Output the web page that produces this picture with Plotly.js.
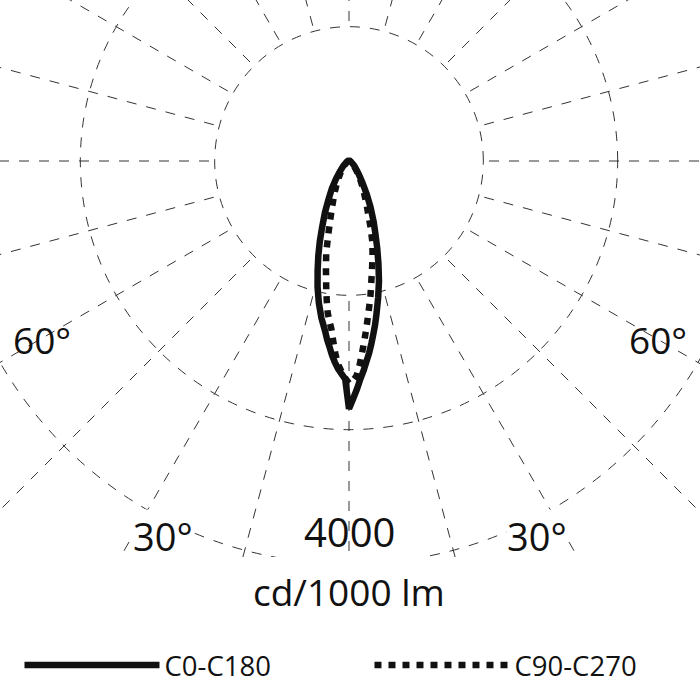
<!DOCTYPE html>
<html><head><meta charset="utf-8">
<script src="https://cdn.plot.ly/plotly-3.0.1.min.js"></script>
<style>
html,body{margin:0;padding:0;width:700px;height:700px;overflow:hidden;background:#fff}
#chart{position:absolute;left:-191px;top:-379px;width:1080px;height:1080px}
</style></head><body><div id="chart"></div>
<script>
// gamma: angle from nadir (deg)
const gamma = [0,1,2,3,4,5,6,7,8,9,10,12,14,16,18,20,22,25,28,32,36,40,45,50,60,70,90,120,180];
// luminous intensity, cd/1000 lm
const c0   = [2460,2360,2265,2165,2085,1995,1915,1825,1735,1650,1560,1390,1230,1060,905,765,655,505,375,250,170,120,80,60,30,20,10,0,0];
const c180 = [2460,2165,2115,2065,2005,1935,1855,1785,1705,1640,1580,1440,1290,1130,985,845,715,565,435,320,220,150,100,70,30,20,10,0,0];
const c90  = [2205,2185,2135,2025,1895,1775,1660,1550,1450,1360,1260,1100,965,845,695,555,465,355,280,200,140,100,70,50,30,20,10,0,0];
const c270 = [2205,2155,2095,2025,1925,1795,1675,1600,1520,1410,1300,1100,935,735,595,495,415,330,260,190,140,100,70,50,30,20,10,0,0];
const planeNames = ['C0-C180','C90-C270'];
const radialTicks = [4000/3, 8000/3, 4000];
const radialMax = 5360;
const radialLabel = '4000';
const unitLabel = 'cd/1000 lm';
const angleLabels = ['60°','30°','30°','60°'];

function plane(right, left){
  const theta=[], r=[];
  for(let i=gamma.length-1;i>=0;i--){ theta.push(-gamma[i]); r.push(left[i]); }
  for(let i=1;i<gamma.length;i++){ theta.push(gamma[i]); r.push(right[i]); }
  return {theta, r};
}
const p1 = plane(c0, c180);
const p2 = plane(c90, c270);

// white disc hiding radial grid lines inside the first circle
const maskTheta = [], maskR = [];
for(let a=0;a<=360;a+=5){ maskTheta.push(a); maskR.push(radialTicks[0]*0.985); }

const FONT = 'Open Sans, sans-serif';
const INK = '#111';
const GRID = '#333';

const traces = [
  {type:'scatterpolar', mode:'lines', theta:maskTheta, r:maskR, fill:'toself', fillcolor:'#ffffff',
   line:{width:0,color:'rgba(0,0,0,0)'}, showlegend:false, hoverinfo:'skip'},
  {type:'scatterpolar', mode:'lines', name:planeNames[1], theta:p2.theta, r:p2.r,
   line:{color:INK, width:6.5, dash:'7px,7px'}, legendrank:2},
  {type:'scatterpolar', mode:'lines', name:planeNames[0], theta:p1.theta, r:p1.r,
   line:{color:INK, width:6.5}, legendrank:1}
];

const layout = {
  width:1080, height:1080, margin:{l:0,r:0,t:0,b:0},
  paper_bgcolor:'#ffffff', showlegend:true,
  polar:{
    domain:{x:[0,1],y:[0,1]}, bgcolor:'#ffffff',
    radialaxis:{range:[0,radialMax], tickmode:'array', tickvals:radialTicks, showticklabels:false,
      ticks:'', showline:false, gridcolor:GRID, gridwidth:1, griddash:'10px,10px'},
    angularaxis:{rotation:-90, direction:'counterclockwise', tickmode:'linear', tick0:0, dtick:15,
      showticklabels:false, ticks:'', showline:false, gridcolor:GRID, gridwidth:1, griddash:'10px,10px'}
  },
  shapes:[{type:'rect', xref:'paper', yref:'paper', x0:0, x1:1, y0:0, y1:0.1333,
    fillcolor:'#ffffff', line:{width:0}, layer:'above'}],
  annotations:[
    {text:radialLabel, xref:'paper', yref:'paper', x:0.5, y:0.1574, xanchor:'center', yanchor:'middle', showarrow:false, font:{family:FONT,size:40,color:INK}},
    {text:unitLabel, xref:'paper', yref:'paper', x:0.5, y:0.1014, xanchor:'center', yanchor:'middle', showarrow:false, font:{family:FONT,size:37,color:INK}},
    {text:angleLabels[0], xref:'paper', yref:'paper', x:0.2155, y:0.3343, xanchor:'center', yanchor:'middle', showarrow:false, font:{family:FONT,size:37,color:INK}},
    {text:angleLabels[1], xref:'paper', yref:'paper', x:0.3278, y:0.1528, xanchor:'center', yanchor:'middle', showarrow:false, bgcolor:'#ffffff', borderpad:0, font:{family:FONT,size:38,color:INK}},
    {text:angleLabels[2], xref:'paper', yref:'paper', x:0.6741, y:0.1528, xanchor:'center', yanchor:'middle', showarrow:false, bgcolor:'#ffffff', borderpad:0, font:{family:FONT,size:38,color:INK}},
    {text:angleLabels[3], xref:'paper', yref:'paper', x:0.786, y:0.3343, xanchor:'center', yanchor:'middle', showarrow:false, font:{family:FONT,size:37,color:INK}}
  ],
  legend:{orientation:'h', x:0.1949, y:0.0333, xanchor:'left', yanchor:'middle',
    font:{family:FONT,size:27.5,color:INK}, itemwidth:135, entrywidth:200, bgcolor:'rgba(0,0,0,0)'}
};

Plotly.newPlot('chart', traces, layout, {staticPlot:true, displayModeBar:false});
</script></body></html>
